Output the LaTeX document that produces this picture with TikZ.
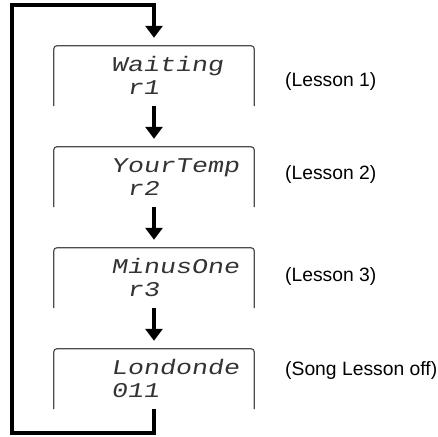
\documentclass[tikz,border=0pt]{standalone}
\usepackage{fontspec}
\setmainfont{Liberation Sans}
\newfontfamily\lcdfont[FakeStretch=1.27,FakeSlant=0.18]{Liberation Mono}
\usetikzlibrary{arrows.meta}
\begin{document}
\begin{tikzpicture}[x=1pt, y=-1pt,
  lcdbox/.style={minimum width=200pt, minimum height=60pt, inner sep=0pt},
  lcdframe/.style={draw=black!70, line width=1.2pt, rounded corners=3pt},
  lcdtext/.style={anchor=base west, inner sep=0pt, text=black!80,
    font=\lcdfont\fontsize{21}{21}\selectfont},
  note/.style={anchor=west, inner sep=0pt, font=\fontsize{19.3}{22}\selectfont},
  flow/.style={line width=3.8pt, -{Triangle[width=17pt,length=12pt]}, shorten >=8pt}]
\useasboundingbox (0,0) rectangle (438,436);
% LCD panels
\node[lcdbox] (b1) at (154,76) {};
\node[lcdbox] (b2) at (154,177) {};
\node[lcdbox] (b3) at (154,278) {};
\node[lcdbox] (b4) at (154,379) {};
% Panel frames, open at the bottom
\draw[lcdframe] (b1.south west) -- (b1.north west) -- (b1.north east) -- (b1.south east);
\draw[lcdframe] (b2.south west) -- (b2.north west) -- (b2.north east) -- (b2.south east);
\draw[lcdframe] (b3.south west) -- (b3.north west) -- (b3.north east) -- (b3.south east);
\draw[lcdframe] (b4.south west) -- (b4.north west) -- (b4.north east) -- (b4.south east);
% Display texts
\node[lcdtext] (t1a) at ([xshift=57pt,yshift=-26pt]b1.north west) {Waiting};
\node[lcdtext] (t1b) at ([xshift=57pt,yshift=-49pt]b1.north west) {\hphantom{0}r1};
\node[lcdtext] (t2a) at ([xshift=57pt,yshift=-26pt]b2.north west) {YourTemp};
\node[lcdtext] (t2b) at ([xshift=57pt,yshift=-49pt]b2.north west) {\hphantom{0}r2};
\node[lcdtext] (t3a) at ([xshift=57pt,yshift=-26pt]b3.north west) {MinusOne};
\node[lcdtext] (t3b) at ([xshift=57pt,yshift=-49pt]b3.north west) {\hphantom{0}r3};
\node[lcdtext] (t4a) at ([xshift=57pt,yshift=-26pt]b4.north west) {Londonde};
\node[lcdtext] (t4b) at ([xshift=57pt,yshift=-49pt]b4.north west) {011};
% Side notes
\node[note] (n1) at (285,82) {(Lesson 1)};
\node[note] (n2) at (285,175) {(Lesson 2)};
\node[note] (n3) at (285,277) {(Lesson 3)};
\node[note] (n4) at (285,371) {(Song Lesson off)};
% Steps
\draw[flow] (b1.south) -- (b2.north);
\draw[flow] (b2.south) -- (b3.north);
\draw[flow] (b3.south) -- (b4.north);
% Return loop
\coordinate (lp) at (12,5);
\draw[flow] (b4.south) -- ++(0,24) -| (lp) -| (b1.north);
\end{tikzpicture}
\end{document}
